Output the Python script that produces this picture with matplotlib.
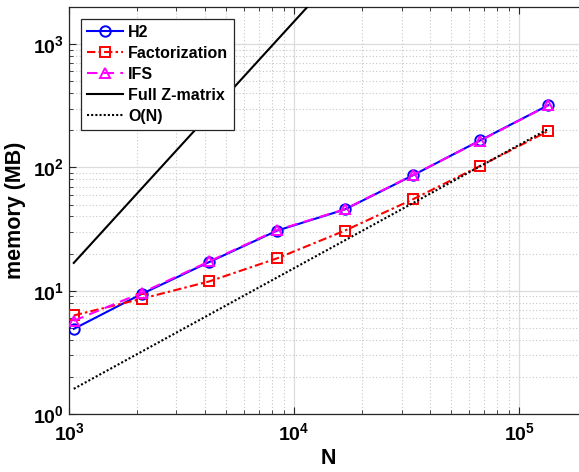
import matplotlib
matplotlib.use("Agg")
import matplotlib.pyplot as plt
from matplotlib.ticker import LogLocator, NullFormatter, FixedLocator, FixedFormatter

plt.rcParams['font.family'] = ['Liberation Sans', 'DejaVu Sans']
plt.rcParams['font.weight'] = 'bold'
plt.rcParams['mathtext.fontset'] = 'custom'
plt.rcParams['mathtext.rm'] = 'Liberation Sans:bold'
plt.rcParams['mathtext.bf'] = 'Liberation Sans:bold'
plt.rcParams['mathtext.it'] = 'Liberation Sans:bold'

# Data
N = [1050, 2100, 4200, 8400, 16800, 33600, 67200, 134400]
h2 = [4.9, 9.4, 17.1, 30.7, 45.6, 86, 166, 319]
factorization = [6.3, 8.6, 11.9, 18.3, 30.7, 55, 103, 197]
ifs = [5.7, 9.6, 17.3, 31.0, 45.8, 86.5, 165, 318]
full_z = [16.8, 67.3, 269, 1077, 4307, 17230, 68900, 275600]
o_n = [1.6, 3.2, 6.4, 12.8, 25.6, 51.2, 102.4, 204.8]

xticks = [1e3, 1e4, 1e5]
xticklabels = [r'$\mathbf{10^{3}}$', r'$\mathbf{10^{4}}$', r'$\mathbf{10^{5}}$']
yticks = [1e0, 1e1, 1e2, 1e3]
yticklabels = [r'$\mathbf{10^{0}}$', r'$\mathbf{10^{1}}$', r'$\mathbf{10^{2}}$', r'$\mathbf{10^{3}}$']

fig = plt.figure(figsize=(5.79, 4.72), dpi=100)
ax = fig.add_axes([69/579, 58/472, 518/579, 407/472])
ax.set_xscale('log')
ax.set_yscale('log')

ms = 7.5
ax.plot(N, h2, '-', color='#0000ff', marker='o', mfc='none', mec='#0000ff', ms=ms, mew=1.4, lw=1.5, label='H2', zorder=3)
ax.plot(N, factorization, color='#ff0000', ls=(0, (4, 1.5, 1.2, 1.5)), marker='s', mfc='none', mec='#ff0000', ms=ms*0.9, mew=1.4, lw=1.5, label='Factorization', zorder=3)
ax.plot(N, ifs, color='#ff00ff', ls=(0, (5, 3)), marker='^', mfc='none', mec='#ff00ff', ms=ms, mew=1.4, lw=1.5, label='IFS', zorder=3)
ax.plot(N, full_z, '-', color='black', lw=1.5, label='Full Z-matrix', zorder=3)
ax.plot(N, o_n, color='black', ls=(0, (1, 1)), lw=1.5, label='O(N)', zorder=4)

ax.set_xlim(1e3, 2e5)
ax.set_ylim(1, 2000)

ax.xaxis.set_major_locator(FixedLocator(xticks))
ax.xaxis.set_major_formatter(FixedFormatter(xticklabels))
ax.yaxis.set_major_locator(FixedLocator(yticks))
ax.yaxis.set_major_formatter(FixedFormatter(yticklabels))
ax.xaxis.set_minor_locator(LogLocator(base=10, subs=range(2, 10), numticks=20))
ax.yaxis.set_minor_locator(LogLocator(base=10, subs=range(2, 10), numticks=20))
ax.xaxis.set_minor_formatter(NullFormatter())
ax.yaxis.set_minor_formatter(NullFormatter())

ax.tick_params(which='both', direction='in', top=True, right=True, colors='#262626', labelcolor='black')
ax.tick_params(which='major', length=5, width=0.8, labelsize=14)
ax.tick_params(which='minor', length=3, width=0.6)
ax.tick_params(axis='x', which='major', pad=6)

ax.grid(True, which='major', color='#dcdcdc', lw=0.9, ls='-')
ax.grid(True, which='minor', color='#c8c8c8', lw=0.8, ls=(0, (1, 2)))
ax.set_axisbelow(True)
for s in ax.spines.values():
    s.set_color('#262626')
    s.set_linewidth(0.9)

ax.set_xlabel('N', fontsize=15.5, fontweight='bold', labelpad=3)
ax.set_ylabel('memory (MB)', fontsize=15.5, fontweight='bold', labelpad=5)

leg = ax.legend(loc='upper left', bbox_to_anchor=(0.023, 0.97), prop={'weight': 'bold', 'size': 11.5},
                fancybox=False, framealpha=1, edgecolor='#262626', handlelength=2.3,
                handletextpad=0.3, labelspacing=0.38, borderpad=0.35, borderaxespad=0)
leg.get_frame().set_linewidth(0.9)

fig.savefig('out.png', dpi=100)
